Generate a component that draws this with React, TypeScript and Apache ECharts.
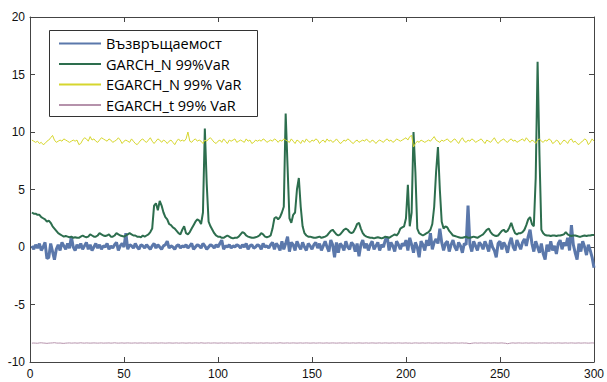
import React, { useEffect, useRef } from "react";
import * as echarts from "echarts";

const seriesNames = ["Възвръщаемост", "GARCH_N 99%VaR", "EGARCH_N 99% VaR", "EGARCH_t 99% VaR"];
const seriesColors = ["#5b78ab", "#2d6e4e", "#d6d62e", "#b592ab"];
const seriesWidths = [3, 2, 1, 1];

const xTicks = [0, 50, 100, 150, 200, 250, 300];
const yTicks = [-10, -5, 0, 5, 10, 15, 20];

const returnsValues = [
  0.1, -0.2, 0.2, -0.1, 0.3, -0.3, 0.0, 0.4, -1.0, -0.9, 0.3, -0.4, -1.1, -0.2, 0.2, -0.3, 0.4, 0.1, -0.2, 0.3,
  -0.1, 0.9, 0.0, -0.3, 0.2, -0.1, 0.3, -0.2, 0.1, 0.4, -0.2, 0.2, -0.3, 0.0, 0.3, -0.1, 0.2, -0.2, 0.1, 0.0,
  0.3, -0.2, 0.1, -0.1, 0.2, 0.4, -0.3, 0.1, 0.3, 0.0, 1.2, -0.2, 0.2, 0.1, -0.1, 0.3, 0.0, -0.2, 0.2, 0.1,
  -0.1, 0.2, 0.0, -0.2, 0.1, 0.3, -0.1, 0.2, 0.0, -0.2, 0.1, 0.2, 0.5, -0.1, 0.1, 0.0, -0.2, 0.1, 0.2, -0.1,
  0.1, 0.0, 0.2, -0.1, 0.1, 0.3, -0.2, 0.0, 0.2, 0.1, -0.1, 0.3, 0.1, -0.2, 0.0, 0.2, 0.1, -0.1, 0.2, 0.0,
  0.3, 0.6, -0.2, 0.1, 0.0, 0.2, -0.1, 0.1, 0.0, 0.2, 0.1, -0.1, 0.2, 0.0, 0.3, -0.2, 0.1, 0.2, -0.1, 0.0,
  0.2, 0.1, -0.2, 0.3, 0.0, 0.1, -0.1, 0.2, 0.4, -0.2, 0.3, 0.1, -0.3, 0.5, -0.2, 0.3, 0.9, -0.4, 0.4, 0.2,
  -0.3, 0.5, 0.1, -0.2, 0.4, 0.0, -0.3, 0.3, 0.1, -0.2, 0.2, 0.4, -0.1, 0.3, -0.3, 0.1, 0.5, 0.0, -0.4, 0.6,
  0.2, -0.9, 0.4, -0.5, 0.3, 0.1, -0.3, 0.5, 0.0, -0.2, 0.4, 0.2, -0.4, 0.3, -0.8, 0.2, 0.6, -0.1, 0.3, -0.3,
  0.2, 0.5, -0.2, 0.1, 0.4, -0.3, 0.2, 0.0, 0.6, 0.9, -0.3, 0.4, 0.1, -0.4, 0.5, 0.2, -0.2, 0.3, 0.1, 0.6,
  -0.3, 0.8, 0.2, -0.5, 0.4, 0.0, -0.9, 0.5, 0.2, -0.3, 0.6, 0.1, 1.2, -0.2, 0.4, 0.7, 0.3, 1.6, 0.4, -0.3,
  0.3, 0.5, -0.4, 0.2, 0.6, 0.0, -0.3, 0.4, 0.1, -0.5, 0.3, 0.2, 3.6, 0.2, -0.4, 0.5, 0.1, -0.3, 0.4, 0.2,
  -0.2, 0.5, 0.1, -0.4, 0.6, 0.0, -0.3, -0.9, 0.3, 0.5, -0.2, 0.4, 0.1, -0.5, 0.3, 0.8, 0.0, -0.3, 0.6, 0.2,
  -0.2, 0.4, 0.7, 0.1, 0.9, 1.5, 0.3, -0.4, 0.5, 0.0, -0.5, 0.3, -0.6, -1.1, 0.2, -0.4, 0.5, -0.3, 0.1, -0.6,
  0.3, 0.6, -0.2, 0.4, 0.1, 0.8, -0.3, 1.9, 0.2, -0.5, -1.1, 0.3, -0.4, 0.5, 0.0, -0.7, 0.2, -0.3, -0.9, -1.8,
];

const garchNValues = [
  3.0, 2.9, 2.9, 2.8, 2.8, 2.6, 2.5, 2.4, 2.2, 2.3, 2.1, 1.8, 1.6, 1.4, 1.2, 1.1, 1.0, 0.9, 0.95, 0.9,
  0.85, 0.9, 0.8, 0.85, 0.8, 0.8, 0.9, 1.0, 0.9, 0.85, 0.9, 1.1, 1.0, 0.9, 0.9, 1.0, 1.2, 1.1, 1.0, 0.95,
  1.0, 1.1, 0.9, 0.9, 1.0, 1.2, 1.1, 1.0, 0.95, 0.9, 1.0, 1.1, 1.2, 1.1, 1.0, 1.0, 0.9, 0.9, 0.85, 1.0,
  0.9, 1.0, 1.1, 1.3, 1.6, 3.6, 3.8, 3.2, 4.0, 3.6, 3.0, 2.6, 2.4, 2.0, 1.9, 1.7, 1.6, 1.4, 1.2, 1.1,
  1.5, 1.8, 1.2, 1.1, 1.3, 1.6, 1.9, 2.2, 2.4, 2.3, 2.0, 3.0, 10.3, 5.5, 2.2, 1.8, 1.5, 1.2, 1.0, 0.9,
  0.9, 0.8, 0.8, 0.9, 1.0, 0.9, 0.8, 0.75, 0.8, 0.8, 0.9, 1.1, 1.3, 1.2, 1.0, 0.9, 0.85, 0.8, 0.8, 0.85,
  0.9, 1.0, 1.2, 1.1, 0.9, 0.85, 0.9, 1.0, 1.6, 2.5, 2.6, 2.4, 2.6, 3.0, 3.5, 11.6, 7.0, 2.5, 2.1, 2.8,
  3.0, 5.0, 6.0, 3.5, 1.8, 1.2, 1.0, 0.9, 0.9, 0.85, 0.8, 0.8, 0.85, 0.9, 0.8, 0.85, 0.9, 1.0, 1.2, 1.4,
  1.5, 1.3, 1.1, 1.0, 1.1, 1.3, 1.5, 1.6, 1.5, 1.3, 1.2, 1.3, 1.6, 2.0, 2.1, 1.6, 1.2, 1.0, 0.9, 0.85,
  0.8, 0.8, 0.75, 0.8, 0.85, 0.8, 0.75, 0.8, 0.9, 0.85, 0.8, 0.9, 1.0, 1.1, 1.0, 1.2, 1.6, 1.7, 1.8, 2.5,
  5.4, 1.8, 3.0, 10.0, 6.5, 1.6, 1.2, 1.1, 1.0, 1.1, 1.2, 1.3, 1.5, 2.0, 3.5, 6.5, 8.7, 5.0, 2.2, 1.6,
  1.8, 1.7, 1.4, 1.2, 1.0, 0.95, 0.9, 0.85, 0.8, 0.8, 0.85, 0.9, 0.8, 0.8, 0.85, 0.9, 0.85, 0.8, 0.9, 1.0,
  1.1, 1.3, 1.5, 1.6, 1.3, 1.1, 1.0, 0.95, 1.0, 1.2, 1.4, 1.5, 1.3, 1.4, 1.7, 2.1, 1.6, 1.2, 1.1, 1.2,
  1.2, 1.3, 1.5, 1.9, 2.4, 2.6, 2.0, 1.8, 6.0, 16.1, 8.0, 1.5, 1.2, 1.05, 1.0, 1.0, 0.95, 1.0, 1.0, 0.95,
  1.0, 1.0, 1.05, 1.1, 1.3, 1.1, 1.0, 0.95, 1.0, 1.0, 0.95, 0.9, 0.9, 0.95, 1.0, 0.95, 1.0, 1.0, 1.05, 1.05,
];

const egarchNValues = [
  9.3, 9.2, 9.1, 9.2, 9.0, 9.1, 8.9, 9.0, 9.2, 9.3, 9.5, 9.7, 9.3, 9.1, 9.2, 9.3, 9.2, 9.4, 9.3, 9.2,
  9.1, 9.2, 9.3, 9.2, 9.3, 8.9, 9.0, 9.3, 9.5, 9.4, 9.2, 9.6, 9.3, 9.4, 9.2, 9.1, 9.3, 9.5, 9.4, 9.3,
  9.2, 9.4, 9.3, 9.1, 9.2, 9.3, 9.5, 9.3, 9.0, 9.2, 9.3, 9.2, 9.1, 9.4, 9.2, 9.0, 8.9, 9.1, 9.3, 9.4,
  9.2, 9.1, 9.3, 9.5, 9.2, 9.0, 9.2, 9.4, 9.3, 9.1, 9.3, 9.2, 9.0, 9.2, 9.3, 9.1, 8.9, 9.2, 9.4, 9.2,
  9.3, 9.2, 9.4, 10.0, 9.2, 9.1, 9.3, 9.4, 9.2, 9.3, 9.2, 9.0, 9.3, 9.2, 9.4, 9.5, 9.3, 9.1, 9.0, 9.2,
  9.3, 9.1, 9.4, 9.2, 9.0, 9.3, 9.2, 9.3, 9.4, 9.1, 9.2, 9.3, 9.2, 9.1, 9.4, 9.2, 9.3, 9.0, 9.1, 9.3,
  9.2, 9.3, 9.2, 9.4, 9.3, 9.1, 9.2, 9.3, 9.2, 9.4, 9.3, 9.1, 9.3, 9.2, 9.4, 9.3, 9.2, 9.1, 9.4, 9.2,
  9.0, 9.3, 9.2, 9.0, 9.3, 9.1, 9.4, 9.2, 9.1, 9.3, 9.2, 9.4, 9.3, 9.0, 9.2, 9.3, 9.1, 9.4, 9.2, 9.3,
  9.1, 9.2, 9.4, 9.2, 9.0, 9.1, 9.3, 9.2, 9.4, 9.3, 9.1, 9.0, 9.2, 9.3, 9.1, 9.2, 9.3, 9.2, 9.4, 9.2,
  9.1, 9.3, 9.2, 9.0, 9.2, 9.3, 9.2, 9.1, 9.3, 9.4, 9.2, 9.3, 9.1, 9.2, 9.4, 9.3, 9.2, 9.3, 9.4, 9.5,
  9.3, 9.6, 9.7, 8.7, 9.0, 9.2, 9.1, 9.3, 9.2, 9.1, 9.2, 9.3, 9.2, 9.4, 9.6, 9.3, 9.2, 9.1, 9.3, 9.2,
  9.3, 9.4, 9.2, 9.1, 9.3, 9.4, 9.2, 9.0, 9.3, 9.5, 9.2, 9.1, 9.3, 9.2, 9.4, 9.3, 9.1, 9.2, 9.3, 9.4,
  9.2, 9.0, 9.3, 9.2, 9.1, 9.3, 9.5, 9.2, 9.0, 9.2, 9.3, 9.4, 9.2, 9.1, 9.3, 9.4, 9.2, 9.3, 9.1, 9.2,
  9.3, 9.4, 9.2, 9.5, 9.3, 9.1, 9.3, 9.2, 9.0, 9.3, 9.4, 9.2, 9.1, 9.3, 9.2, 9.4, 9.3, 9.0, 9.1, 9.3,
  9.2, 8.9, 9.1, 9.3, 9.2, 9.0, 9.3, 9.4, 9.1, 9.2, 9.0, 8.9, 9.1, 9.2, 9.4, 9.3, 8.9, 9.1, 9.4, 9.2,
];

const egarchTValues = [
  -8.36, -8.35, -8.36, -8.37, -8.34, -8.33, -8.35, -8.36, -8.38, -8.36, -8.35, -8.34, -8.32, -8.35, -8.36, -8.35, -8.37, -8.38, -8.36, -8.35,
  -8.34, -8.36, -8.35, -8.34, -8.36, -8.35, -8.33, -8.35, -8.36, -8.34, -8.35, -8.36, -8.35, -8.34, -8.35, -8.36, -8.35, -8.34, -8.36, -8.35,
  -8.35, -8.34, -8.36, -8.35, -8.33, -8.35, -8.36, -8.35, -8.34, -8.36, -8.35, -8.34, -8.35, -8.36, -8.35, -8.34, -8.36, -8.35, -8.34, -8.35,
  -8.36, -8.35, -8.34, -8.36, -8.35, -8.35, -8.34, -8.36, -8.35, -8.34, -8.35, -8.36, -8.35, -8.34, -8.35, -8.36, -8.35, -8.34, -8.36, -8.35,
  -8.34, -8.35, -8.36, -8.35, -8.34, -8.36, -8.35, -8.34, -8.35, -8.36, -8.33, -8.35, -8.36, -8.35, -8.34, -8.36, -8.35, -8.34, -8.35, -8.36,
  -8.35, -8.34, -8.36, -8.35, -8.34, -8.35, -8.36, -8.35, -8.34, -8.36, -8.35, -8.34, -8.35, -8.36, -8.35, -8.34, -8.36, -8.35, -8.34, -8.35,
  -8.36, -8.35, -8.34, -8.36, -8.35, -8.34, -8.35, -8.36, -8.35, -8.34, -8.36, -8.35, -8.33, -8.35, -8.36, -8.35, -8.34, -8.36, -8.35, -8.34,
  -8.35, -8.36, -8.35, -8.34, -8.36, -8.35, -8.34, -8.35, -8.36, -8.35, -8.34, -8.36, -8.35, -8.34, -8.35, -8.36, -8.35, -8.34, -8.36, -8.35,
  -8.34, -8.35, -8.36, -8.35, -8.34, -8.36, -8.35, -8.34, -8.35, -8.36, -8.35, -8.34, -8.36, -8.35, -8.34, -8.35, -8.36, -8.35, -8.34, -8.36,
  -8.35, -8.34, -8.35, -8.36, -8.35, -8.34, -8.36, -8.35, -8.34, -8.35, -8.36, -8.35, -8.34, -8.36, -8.35, -8.34, -8.35, -8.36, -8.35, -8.34,
  -8.36, -8.35, -8.37, -8.35, -8.34, -8.35, -8.36, -8.35, -8.34, -8.36, -8.35, -8.34, -8.35, -8.36, -8.35, -8.34, -8.36, -8.35, -8.34, -8.35,
  -8.36, -8.35, -8.34, -8.36, -8.35, -8.34, -8.35, -8.36, -8.35, -8.34, -8.36, -8.35, -8.38, -8.40, -8.37, -8.35, -8.34, -8.36, -8.35, -8.34,
  -8.35, -8.36, -8.35, -8.34, -8.36, -8.35, -8.34, -8.35, -8.36, -8.35, -8.34, -8.36, -8.37, -8.41, -8.38, -8.35, -8.34, -8.36, -8.35, -8.34,
  -8.35, -8.36, -8.35, -8.34, -8.36, -8.35, -8.34, -8.35, -8.36, -8.35, -8.34, -8.36, -8.35, -8.34, -8.35, -8.36, -8.35, -8.34, -8.36, -8.35,
  -8.34, -8.35, -8.36, -8.35, -8.34, -8.36, -8.35, -8.34, -8.35, -8.36, -8.35, -8.34, -8.36, -8.35, -8.34, -8.35, -8.36, -8.35, -8.34, -8.35,
];

const allValues = [returnsValues, garchNValues, egarchNValues, egarchTValues];

const axisColor = "#444";
const labelStyle = { color: "#111", fontSize: 12, fontFamily: "Liberation Sans, Arial, sans-serif" };

export default function App() {
  const ref = useRef<HTMLDivElement>(null);
  useEffect(() => {
    const chart = echarts.init(ref.current!, null, { renderer: "svg" });
    const series = allValues.map((vals, s) => ({
      name: seriesNames[s],
      type: "line",
      xAxisIndex: 0,
      yAxisIndex: 0,
      symbol: "none",
      showSymbol: false,
      data: vals.map((v, i) => [i + 1, v]),
      lineStyle: { color: seriesColors[s], width: seriesWidths[s] },
      itemStyle: { color: seriesColors[s] },
      z: 2 + s,
    }));
    const baseX = {
      type: "value",
      min: xTicks[0],
      max: xTicks[xTicks.length - 1],
      interval: 50,
      splitLine: { show: false },
      axisLine: { show: true, onZero: false, lineStyle: { color: axisColor, width: 1 } },
      axisTick: { show: true, inside: true, length: 5, lineStyle: { color: axisColor } },
    };
    const baseY = {
      type: "value",
      min: yTicks[0],
      max: yTicks[yTicks.length - 1],
      interval: 5,
      splitLine: { show: false },
      axisLine: { show: true, onZero: false, lineStyle: { color: axisColor, width: 1 } },
      axisTick: { show: true, inside: true, length: 5, lineStyle: { color: axisColor } },
    };
    chart.setOption({
      animation: false,
      backgroundColor: "#ffffff",
      grid: { left: 30, right: 13, top: 17, bottom: 20 },
      xAxis: [
        { ...baseX, position: "bottom", axisLabel: { ...labelStyle, margin: 6 } },
        { ...baseX, position: "top", axisLabel: { show: false } },
      ],
      yAxis: [
        { ...baseY, position: "left", axisLabel: { ...labelStyle, margin: 5 } },
        { ...baseY, position: "right", axisLabel: { show: false } },
      ],
      legend: {
        orient: "vertical",
        left: 58,
        top: 36,
        itemWidth: 42,
        itemHeight: 14,
        itemGap: 5.5,
        padding: 0,
        data: seriesNames,
        itemStyle: { opacity: 0 },
        textStyle: { color: "#000", fontSize: 14.5, fontFamily: "Open Sans, sans-serif", padding: [0, 0, 0, 0] },
        z: 10,
      },
      graphic: [
        {
          type: "rect",
          shape: { x: 49.5, y: 30.5, width: 208, height: 86 },
          style: { fill: "#ffffff", stroke: "#333", lineWidth: 1 },
          z: 9,
        },
      ],
      series,
    });
    return () => chart.dispose();
  }, []);
  return <div ref={ref} style={{ position: "fixed", left: 0, top: 0, width: 607, height: 382 }} />;
}
